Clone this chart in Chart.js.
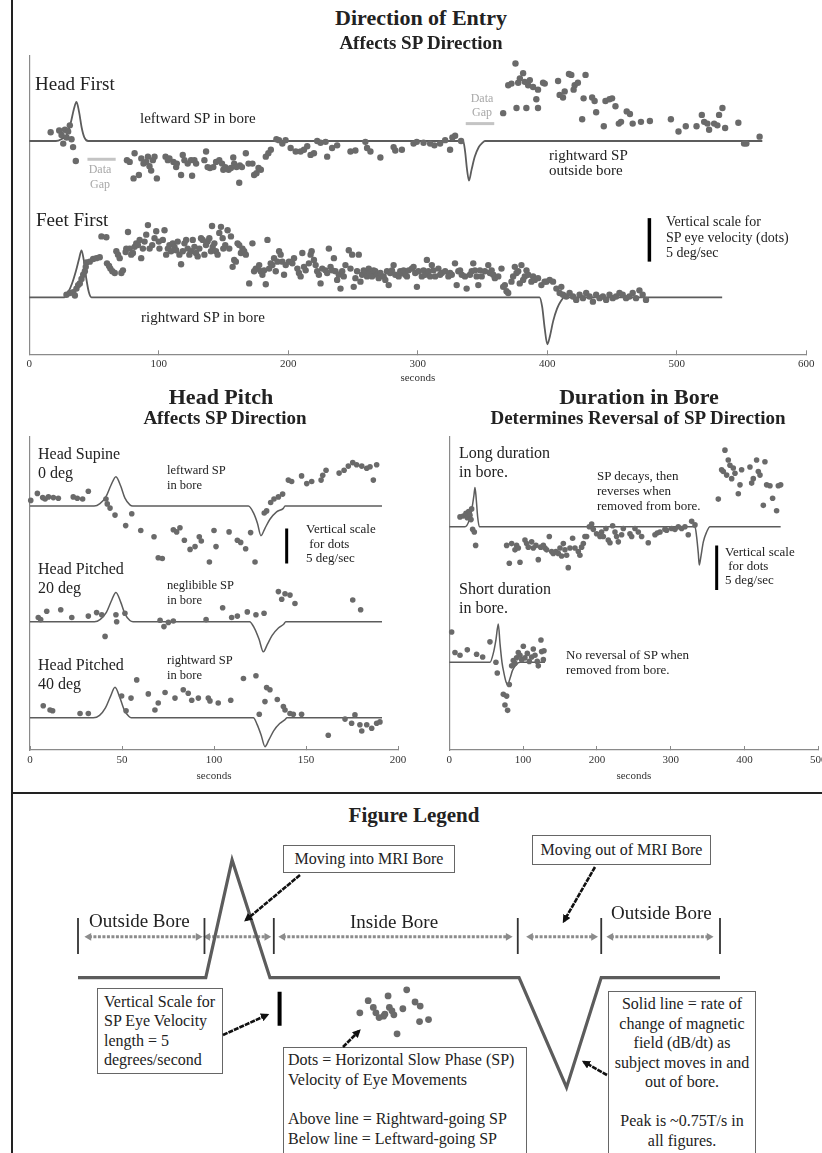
<!DOCTYPE html>
<html>
<head>
<meta charset="utf-8">
<script src="https://cdn.jsdelivr.net/npm/chart.js@4.4.1/dist/chart.umd.min.js"></script>
<style>
  html, body { margin: 0; padding: 0; overflow: hidden; background: #fff; }
  body { position: relative; width: 822px; height: 1153px; font-family: "Liberation Serif", "Times New Roman", serif; color: #222; }
  canvas { position: absolute; }
  .t { position: absolute; white-space: nowrap; }
  .b { font-weight: bold; }
  .c { transform: translateX(-50%); text-align: center; }
  .gap { color: #a8a8a8; }
  .box { position: absolute; box-sizing: border-box; border: 1.5px solid #666; background: #fff; font-size: 16px; white-space: nowrap; }
  .rule { position: absolute; background: #222; }
</style>
</head>
<body>

<div class="rule" style="left:11px;top:0;width:2px;height:1153px"></div>
<div class="rule" style="left:11px;top:792px;width:811px;height:2px"></div>

<canvas id="topChart" width="822" height="352" style="left:0;top:40px"></canvas>
<canvas id="pitchChart" width="420" height="370" style="left:0;top:420px"></canvas>
<canvas id="durChart" width="420" height="370" style="left:420px;top:420px"></canvas>
<canvas id="legendChart" width="822" height="323" style="left:0;top:830px"></canvas>

<!-- Direction of Entry -->
<div class="t b c" style="left:421px;top:5px;font-size:22px;line-height:26px">Direction of Entry</div>
<div class="t b c" style="left:421px;top:32px;font-size:19px;line-height:22px">Affects SP Direction</div>
<div class="t" style="left:35px;top:73px;font-size:19px;line-height:22px">Head First</div>
<div class="t" style="left:140px;top:109px;font-size:15px;line-height:18px">leftward SP in bore</div>
<div class="t c gap" style="left:100px;top:161.5px;font-size:12px;line-height:15px">Data<br>Gap</div>
<div class="t c gap" style="left:482px;top:91px;font-size:12px;line-height:14.4px">Data<br>Gap</div>
<div class="t" style="left:549px;top:147.5px;font-size:15px;line-height:15px">rightward SP<br>outside bore</div>
<div class="t" style="left:36px;top:209px;font-size:19px;line-height:22px">Feet First</div>
<div class="t" style="left:141px;top:307.7px;font-size:15px;line-height:18px">rightward SP in bore</div>
<div class="t" style="left:666px;top:214.2px;font-size:14px;line-height:15.5px">Vertical scale for<br>SP eye velocity (dots)<br>5 deg/sec</div>

<!-- Head Pitch -->
<div class="t b c" style="left:221px;top:383.7px;font-size:22px;line-height:26px">Head Pitch</div>
<div class="t b c" style="left:225px;top:407.3px;font-size:19px;line-height:22px">Affects SP Direction</div>
<div class="t" style="left:38px;top:443.6px;font-size:16px;line-height:19.4px">Head Supine<br>0 deg</div>
<div class="t" style="left:167px;top:463px;font-size:12.5px;line-height:15.3px">leftward SP<br>in bore</div>
<div class="t" style="left:306px;top:522px;font-size:13px;line-height:14.5px">Vertical scale<br>&nbsp;for dots<br>5 deg/sec</div>
<div class="t" style="left:38px;top:558.6px;font-size:16px;line-height:19.4px">Head Pitched<br>20 deg</div>
<div class="t" style="left:167px;top:577.6px;font-size:12.5px;line-height:15.3px">neglibible SP<br>in bore</div>
<div class="t" style="left:38px;top:654.6px;font-size:16px;line-height:19.4px">Head Pitched<br>40 deg</div>
<div class="t" style="left:167px;top:653px;font-size:12.5px;line-height:15.3px">rightward SP<br>in bore</div>

<!-- Duration in Bore -->
<div class="t b c" style="left:639px;top:383.7px;font-size:22px;line-height:26px">Duration in Bore</div>
<div class="t b c" style="left:638px;top:407.3px;font-size:19px;line-height:22px">Determines Reversal of SP Direction</div>
<div class="t" style="left:459px;top:443.2px;font-size:16px;line-height:19px">Long duration<br>in bore.</div>
<div class="t" style="left:597px;top:467.5px;font-size:13px;line-height:15px">SP decays, then<br>reverses when<br>removed from bore.</div>
<div class="t" style="left:725px;top:544.6px;font-size:13px;line-height:14.2px">Vertical scale<br>&nbsp;for dots<br>5 deg/sec</div>
<div class="t" style="left:459px;top:578.8px;font-size:16px;line-height:19px">Short duration<br>in bore.</div>
<div class="t" style="left:566px;top:646.5px;font-size:13px;line-height:15px">No reversal of SP when<br>removed from bore.</div>

<!-- Figure Legend -->
<div class="t b c" style="left:414px;top:803px;font-size:21px;line-height:24px">Figure Legend</div>
<div class="t" style="left:89px;top:909.7px;font-size:19px;line-height:22px">Outside Bore</div>
<div class="t" style="left:350px;top:910.7px;font-size:19px;line-height:22px">Inside Bore</div>
<div class="t" style="left:611px;top:902.3px;font-size:19px;line-height:22px">Outside Bore</div>

<div class="box" style="left:283px;top:845px;width:172px;height:28px;line-height:25px;text-align:center">Moving into MRI Bore</div>
<div class="box" style="left:532px;top:835px;width:179px;height:30px;line-height:27px;text-align:center">Moving out of MRI Bore</div>
<div class="box" style="left:97px;top:988px;width:126px;height:86px;line-height:19.4px;padding:3px 0 0 6px">Vertical Scale for<br>SP Eye Velocity<br>length = 5<br>degrees/second</div>
<div class="box" style="left:283px;top:1047px;width:244px;height:112px;line-height:19.7px;padding:2px 0 0 4px">Dots = Horizontal Slow Phase (SP)<br>Velocity of Eye Movements<br><br>Above line = Rightward-going SP<br>Below line = Leftward-going SP</div>
<div class="box" style="left:608px;top:991px;width:148px;height:170px;line-height:19.5px;padding-top:2px;text-align:center">Solid line = rate of<br>change of magnetic<br>field (dB/dt) as<br>subject moves in and<br>out of bore.<br><br>Peak is ~0.75T/s in<br>all figures.</div>

<svg width="822" height="1153" style="position:absolute;left:0;top:0;pointer-events:none">
  <defs>
    <marker id="ah" viewBox="0 0 10 10" refX="7" refY="5" markerWidth="3.2" markerHeight="3.2" orient="auto">
      <path d="M0,0 L10,5 L0,10 z" fill="#111"/>
    </marker>
  </defs>
  <g stroke="#111" stroke-width="2.6" stroke-dasharray="5 1" marker-end="url(#ah)">
    <line x1="300" y1="875" x2="246" y2="920"/>
    <line x1="595" y1="867" x2="564" y2="921"/>
    <line x1="223" y1="1035" x2="267" y2="1015"/>
    <line x1="343" y1="1047" x2="359" y2="1031"/>
    <line x1="607" y1="1075" x2="584" y2="1062"/>
  </g>
</svg>

<script>
// ---- Direction of Entry (seconds, deg/sec for dots, T/s for the dB/dt line) ----
const headFirstDots = [
  [16.5,1],[23.1,1.2],[24.9,0.7],[26.2,-0.3],[27.5,1.3],[28.8,0.4],[30,1.1],[31.3,1.8],[32.6,0.2],[33.8,-0.7],[35.9,-2.3],
  [75.4,-2.2],[77.5,-2.4],[81.3,-1.4],[80.5,-4.3],[84.6,-3.9],[86.5,-2],[88.2,-2.6],[90.3,-2.4],[91.6,-1.8],[92.8,-2.9],
  [94.1,-3.4],[95.4,-2.2],[96.7,-1.8],[98.5,-4.3],[105.2,-1.8],[107,-2.2],[108.2,-2],[111.3,-2.4],[113.4,-3],[113.9,-2.6],
  [117.2,-3.9],[118.5,-1.6],[119.8,-2.2],[122.3,-2.6],[124.9,-2.2],[125.7,-4],[127.5,-2.2],[128.8,-2.6],[135.2,-2.2],
  [136.5,-1.2],[137.7,-3],[139.5,-3.1],[142.1,-3],[144.2,-2.4],[146.7,-2.2],[148.8,-2.6],[149.8,-3.3],[151.3,-3],
  [153.9,-3.3],[155.7,-3.1],[157.5,-1.9],[158.2,-2.6],[160,-3],[162.1,-4.8],[162.6,-2.8],[164.2,-3],[167.2,-1.4],
  [169.3,-2.6],[172.3,-2.6],[173.6,-3.9],[175.4,-3.7],[177,-3.1],[178.8,-3.3],[182.6,-1.8],[184.6,-1.4],[186.5,-1],
  [190.8,0.2],[192.8,0.1],[195.4,-0.3],[197.9,0.1],[201.8,-0.8],[205.7,-1.2],[209.5,-1.2],[212.1,-1],[214.6,-0.6],
  [217.2,-1.6],[219.8,-1.4],[222.3,0],[224.9,-0.2],[228.8,-0.1],[230,-1.8],[233.8,-0.8],[237.7,-0.5],[248,-1.2],
  [251.8,-1.1],[259.5,-0.1],[260.8,-0.8],[263.4,-1.2],[271.1,-1.9],[281.3,-0.7],[282.6,-1.1],[287.7,-1],[296.7,-0.3],
  [299.2,-0.1],[304.4,-0.2],[309.5,-0.3],[312.8,-0.5],[317.2,-0.3],[321.1,0.1],[324.9,-1],[326.7,0.4],[328.8,0.6],
  [333.4,0],
  [365.9,3.2],[369.8,6.4],[372.3,6.6],[375.4,8.9],[376.2,3.8],[377.5,6.7],[378.8,7.2],[381.3,7.8],[382.6,6.8],[383.8,3.8],
  [385.2,6.4],[386.5,7],[389,6.2],[392.8,5.9],[391.5,4.8],[392.8,3.8],[396.7,6.7],[398,6.6],[408.3,6.9],[409.5,5.3],
  [412.1,5],[413.4,5.7],[416.7,7.7],[418.5,7.6],[420.3,5.9],[421.1,6.4],[423.6,6.7],[426.9,2.5],[428,4.9],[429.5,7.6],
  [434.6,5],[436.5,4.6],[437.7,3.3],[443.6,1.7],[444.9,4.6],[448,4.8],[450,4.9],[452.6,4],[455.2,2],[456.9,2.2],
  [461.3,3.4],[463.8,3.1],[465.9,2],[472.3,2.2],[479.2,2.3],[495.4,2.5],[501.3,1.1],[506.9,1.7],[515.2,1.7],[519.3,3],
  [521.1,2.2],[523.6,2],[524.9,1.3],[528.8,2],[531.3,1.8],[532.6,3],[535.2,3.8],[537.3,1.5],[547.5,2.1],[551.9,-0.3],
  [553.7,-0.3],[563.9,0.5]
];
const headFirstField = [
  [0,0],[20.5,0],[25,0.04],[29,0.12],[32,0.35],[34.5,0.62],[36.4,0.75],[38.5,0.55],[40.5,0.25],[42.5,0.07],[45.4,0],
  [335,0],[336.5,-0.2],[338,-0.55],[339.5,-0.76],[341.5,-0.55],[344,-0.3],[347,-0.12],[350,-0.03],[351.8,0],[566,0]
];
const headFirstGapIn = [[44.9,-2.1],[66.7,-2.1]];
const headFirstGapOut = [[337,2],[359,2]];

const feetFirstDots = [
  [28.7,0.3],[31.3,0.5],[33.9,0.6],[35.2,0.2],[36.4,1],[37.7,1.4],[39,1.6],[40.3,2.1],[41.6,2.6],[42.9,3],[43.6,3.5],
  [44.1,4],[46.7,4.1],[49.3,4.4],[51.8,4.5],[54.4,4.6],[55.7,7],[59.5,6.9],[60,3.9],[61.6,3.6],[62.6,3.3],[64.1,3],
  [66,2.8],[67.2,5.3],[68.5,4.9],[69.8,4.5],[71.1,2.8],[72.3,3.1],[74.4,5.2],[74.9,5.6],[76.2,7.5],[77.5,5.6],[78.7,4.9],
  [80,5.1],[81.3,5.8],[82.6,6.2],[83.9,6],[85.2,6.6],[86.4,4.5],[87.7,5.6],[89,6.4],[90.3,7.2],[91.6,8.3],[92.9,5.6],
  [94.9,6],[96.7,6.8],[98,7.6],[100,6.4],[100.5,5.6],[103.1,6.6],[104.4,7.7],[105.7,4.9],[107,5.6],[108.2,6],[109.5,5.3],
  [110.8,6.2],[112.1,5.8],[113.4,5.4],[114.6,6.4],[115.9,4.9],[117.2,3.8],[118.5,5.3],[119.8,6.2],[121.1,6.6],[122.3,5.6],
  [123.6,4.9],[124.9,5.3],[126.2,6.6],[127.5,5.8],[128.7,5.1],[130,4.7],[131.3,5.6],[132.6,6.8],[133.9,6.6],[135.2,4.9],
  [136.4,6],[137.7,6.4],[139,6.8],[140.3,5.3],[141.1,8.2],[141.6,5.8],[142.9,6.2],[144.1,5.3],[145.4,4.9],[146.7,7.4],
  [148,8.1],[149.3,6.8],[149.8,5.6],[151.3,6],[153.1,7.7],[154.4,5.6],[155.7,7],[157,3.5],[158.2,4.3],[159.5,4.1],
  [160.8,6.2],[162.1,6],[163.4,5.1],[164.6,5.6],[165.9,5.3],[167.2,4.9],[169.8,1.6],[172.3,6.2],[173.6,3],[174.9,3.3],
  [176.2,3.3],[177.5,3.7],[178.7,3],[180,2.6],[181.3,3.1],[182.6,1.5],[183.9,6.6],[185.2,3.3],[186.4,3.9],[187.7,3.7],
  [189,4.5],[190.3,3],[191.6,4.1],[192.9,5.3],[194.1,4.9],[195.4,4.1],[196.7,2.6],[198,3.7],
  [200.5,4.1],[203.1,3.9],[204.4,4.5],[207,3.3],[208.2,2.8],[209.5,2.4],[210.8,5.1],[212.1,3.5],[213.4,3.1],[215.9,3.9],
  [217.2,4.9],[218,5.3],[219.8,4.3],[221.1,3.7],[222.3,3],[223.6,2.6],[224.9,1.6],[226.2,3.3],[228.7,3.1],[230,2.8],
  [231.3,5.6],[232.6,3.5],[233.9,3.1],[235.2,4.5],[236.4,3],[237.7,2],[239,2.6],[240.3,1],[241.6,3],[242.8,2.4],
  [244.1,3.7],[246.7,5.4],[248,3.3],[249.3,4.9],[250.5,1.2],[251.8,2.2],[253.1,3],[254.4,4.9],[255.7,1.8],[257,2.6],
  [258.2,3.1],[259.5,3],[260.8,2.4],[262.1,3.3],[263.4,2.8],[264.6,2.4],[265.9,3.1],[267.2,3],[268.5,2.6],[269.8,2.2],
  [271.1,2.8],[273.6,2.4],[274.9,2],[276.2,3],[277.5,1.4],[278.7,2.8],[280,3.1],[281.3,3.7],[282.6,2.6],[285.2,2.4],
  [286.4,3],[287.7,2.8],[289,3.1],[290.3,2.6],[291.6,2.4],[292.9,3.1],[295.4,3.3],[296.7,3.5],[298,2.8],[299.3,1.2],
  [300.5,3],[303.1,2.4],[304.4,3.1],[305.7,2.6],[307,4.3],[308.2,3],[309.5,2.4],[310.8,3.7],[312.1,3.1],[313.4,2.4],
  [315.9,3.3],[317.2,2.6],[318.5,2.8],[321.1,3],[323.6,2.4],[324.9,2.8],[326.2,2.6],[328.7,3.9],[330,1.4],[331.3,3],
  [332.6,3.1],[333.9,2.6],[336.4,2.4],[337.7,1],[340.3,2.6],[341.6,3],[342.8,3.9],[344.1,3.1],[345.4,2.4],[346.7,1.4],
  [348,3.1],[349.3,2.4],[351.8,3],[354.4,3.7],[355.7,2.8],[357,3.1],[358.2,2.6],[359.5,2.2],[362.1,2.4],[364.6,3.3],
  [365.9,1.2],[367.2,1.4],[368.5,0.7],[369.8,0.5],[372.3,1.8],[373.6,2.4],[374.9,3.5],[376.2,2.8],[377.5,3],[378.7,1.6],
  [380,3.7],[381.3,2],[382.6,2.4],[383.9,3.1],[385.2,2.6],[387.7,1.8],[389,2.4],[390.3,2],[392.8,2.2],[395.4,1.4],
  [397.9,1.8],[399.3,1.8],[401.8,2],[404.4,1.8],[407,1],[409.5,0.5],[410.8,1.2],[412.1,0.3],[414.6,0.1],[417.2,0.5],
  [419.8,0.1],[422.3,-0.3],[424.9,0.3],[427.5,-0.1],[430,0.5],[432.6,0.1],[435.2,-0.5],[437.7,0.3],[440.3,-0.1],
  [442.9,0.1],[445.4,-0.3],[448,0.3],[450.5,-0.1],[453.1,0.1],[455.7,0.5],[458.2,0.3],[460.8,-0.1],[463.4,0.1],
  [465.9,0.5],[468.5,-0.1],[471.1,0.8],[473.6,0.3],[476.2,-0.3]
];
const feetFirstField = [
  [0,0],[27,0],[30,0.08],[33,0.22],[36,0.42],[38.5,0.62],[40.3,0.75],[42,0.6],[44,0.3],[46,0.08],[48,0],
  [394,0],[396,-0.15],[398,-0.5],[400,-0.75],[402,-0.62],[404.5,-0.38],[407.5,-0.18],[410.5,-0.06],[413,0],[535,0]
];
const entryScaleBar = [[478.8,4.1],[478.8,9.1]];
const entryTicks = { max: 600, step: 100 };

// ---- Head Pitch ----
const supineDots = [
  [0.4,0.8],[4,1.8],[6.9,1.2],[8.2,1],[10,1.3],[12.7,1.2],[15.4,1.1],[23.5,1.3],[25.7,1.1],[28.6,1],[31.7,2.1],
  [41.3,1],[42,0.3],[43.5,-0.3],[46.2,-1.3],[52,-2.8],[55.3,-1.1],[60.2,-3.5],[67.4,-4.4],[69.7,-7.4],[71.9,-7.5],
  [77.9,-3.4],[79.7,-3.7],[81.5,-3.1],[83.9,-4.9],[87,-6.2],[89.7,-5.8],[92,-4.4],[93.1,-5],[97.5,-8],[100,-3.5],
  [101.1,-5.8],[108.2,-3.7],[112.7,-4.9],[114.5,-5.2],[117.2,-6.1],[119.9,-3.8],[122.3,-8],[127.3,-1],[128.6,-0.7],
  [130.8,0.5],[132.6,1],[135,1.3],[137.3,1.7],[140.4,3.7],[142.2,3.5],[147.6,4.3],[150.4,3.2],[153.1,3.5],[158.2,3.7],
  [159.1,4.4],[160.9,5.1],[168,4.7],[170.7,5.1],[173,5.7],[175.4,6.2],[177.5,5.9],[180.3,5.7],[183,5.4],[184.8,5.6],
  [186.6,3.7],[188.4,5.9]
];
const supineField = [
  [0,0],[34.8,0],[38,0.06],[41.3,0.24],[44,0.53],[46.7,0.75],[49.3,0.51],[51.6,0.2],[54.3,0.03],[55.8,0],
  [118.7,0],[121.4,-0.17],[123.6,-0.44],[125.5,-0.76],[127.7,-0.57],[130.4,-0.34],[134,-0.15],[137.7,-0.06],[138.6,0],[191.3,0]
];
const pitch20Dots = [
  [4.5,0.6],[5.8,0.3],[9.1,1.5],[16.7,1.7],[22.7,0.6],[31.7,0.8],[36.2,1.3],[39,1],[40.8,-2.1],[46.7,1],[47.1,0],
  [51.6,1.2],[70.7,0.2],[72.8,-0.7],[75.2,-0.1],[77.9,0.1],[95.7,0.3],[104.7,2],[109.6,0.6],[112.7,0.8],[118.1,1.4],
  [122.8,1],[127.2,1.2],[135,4.3],[136.8,3.2],[138.6,4],[141.3,3.8],[144,2.6],[175.4,3.1],[179.7,1.7]
];
const pitch20Field = [
  [0,0],[35,0],[38.2,0.06],[41.5,0.24],[44.2,0.53],[46.7,0.75],[49.3,0.5],[51.6,0.2],[54.3,0.03],[56,0],
  [119.3,0],[122,-0.17],[124.5,-0.45],[126.8,-0.77],[129,-0.58],[131.6,-0.35],[135,-0.16],[138,-0.06],[139,0],[191.3,0]
];
const pitch40Dots = [
  [7.2,1.7],[10.9,1.1],[12.3,1],[27.2,0.6],[31.7,0.6],[49.8,3.1],[52.2,1],[54.9,2.8],[58,5.4],[64.3,3.4],[67.9,1.1],
  [69.7,2.1],[73.4,3.6],[78.8,2.8],[83.3,4],[86,3.5],[87.9,2.5],[91.5,2.8],[96.9,2.8],[97.8,2.4],[102.3,2.1],[109.1,2.5],
  [116,5.6],[122.8,6],[124.6,0.5],[127.7,2.3],[128.6,4.3],[130.4,4],[134.4,2.6],[137.7,1.6],[138.6,1.1],[141.3,0.6],
  [143.1,0.5],[147.6,0.5],[162.1,-2.5],[171.2,-0.2],[174.8,-0.8],[176.6,0.4],[179.3,-1],[180.3,-1.9],[183,-1],
  [185.7,-1.5],[188.4,-0.8],[190.2,-0.6]
];
const pitch40Field = [
  [0,0],[34.4,0],[37.8,0.06],[41,0.25],[43.7,0.54],[46.2,0.78],[48.8,0.52],[51.2,0.2],[53.8,0.03],[55,0],
  [121.4,0],[123.4,-0.17],[125.6,-0.44],[127.7,-0.74],[129.9,-0.56],[132.5,-0.33],[135.7,-0.15],[138.6,-0.05],[139.7,0],[191.3,0]
];
const pitchScaleBar = [[139.5,-3.2],[139.5,-8.2]];
const pitchTicks = { max: 200, step: 50 };

// ---- Duration in Bore ----
const longDots = [
  [14.5,1.1],[19,1.2],[22.6,1.5],[24.4,1],[26.2,1.7],[28,1.3],[29.4,0.8],[30.3,2],[31.6,-0.3],[33.9,-0.6],[35.7,-2.1],
  [77.7,-2.1],[81.3,-4.1],[84.5,-1.9],[89,-2.6],[91.2,-2.1],[93.5,-2.4],[95.8,-4],[102.5,-1.5],[104.8,-1.9],[107,-2.3],
  [111.6,-1.7],[113.8,-2.4],[117.4,-2.1],[120.6,-3.7],[123.8,-2.3],[127.4,-2.1],[129.6,-2.4],[131.9,-2.6],[135.5,-1.1],
  [138.7,-2.8],[140.9,-3],[144.5,-2.8],[147.7,-3],[150,-2.4],[152.2,-3.3],[154.5,-1.9],[156.7,-2.6],[159,-3.2],
  [161.2,-4.6],[163.5,-2.4],[167.1,-1.3],[170.3,-2.4],[174.8,-2.8],[177,-3.2],[179.3,-2.3],[181.6,-1.9],[183.8,-1.1],
  [186.1,-1.1],[189.7,0],[192.9,0.3],[195.1,-0.3],[199.6,-0.8],[204.2,-1.1],[206.4,-0.6],[208.7,-1.1],[212.3,-0.2],
  [215.4,-1.5],[217.7,-1.8],[221.3,0.1],[224.5,-0.6],[226.7,-1.1],[229,-1.7],[233.5,-0.9],[235.8,-0.2],[244.8,-0.8],
  [247.1,-1.1],[251.6,-0.2],[256.1,-0.6],[260.6,-1.1],[269.6,-1.8],[278.7,-0.9],[281.8,-0.7],[285.5,-0.6],[292.2,-0.3],
  [294.5,-0.4],[301.3,-0.2],[305.8,-0.3],[310.3,0],[314.8,-0.2],[319.3,0],[323.8,-0.9],[328.4,0.6],[332.9,0.2],
  [364.5,3.1],[369,6.4],[371.3,6.2],[373.5,8.6],[375.8,5.8],[378,7.5],[380.3,6.9],[382.6,5.4],[384.8,6.6],[387.1,6],
  [391.6,3.7],[393.9,4.7],[396.1,6.4],[407.4,6.7],[409.7,4.9],[411.9,5.4],[416.4,7.5],[418.7,6.2],[421,5.8],[425.5,2.4],
  [427.7,7.3],[430,4.7],[434.5,4.6],[438.1,3.2],[443.5,1.8],[445.8,4.6],[449,4.7]
];
const longField = [
  [0,0],[21.2,0],[27.1,0.13],[30.7,0.35],[33.4,0.6],[34.8,0.75],[36.6,0.51],[38.4,0.19],[40.7,0],
  [332.9,0],[335.1,-0.19],[337.4,-0.51],[338.7,-0.73],[340.6,-0.6],[344.2,-0.29],[348.7,-0.1],[353.2,0],[449,0]
];
const shortDots = [
  [3.2,3.4],[7.7,1.1],[14.5,0.8],[24.4,1.4],[37,0.9],[45.2,0.6],[55.1,2.3],[63.2,0],[65,-1.2],[73.2,-3.6],[75.4,-4.8],
  [77.7,-3.8],[79,-5.4],[81.3,-2.5],[84.5,-0.4],[86.7,0.2],[89,-0.1],[91.2,0.5],[93.5,1.1],[95.8,0.8],[98.1,0.3],
  [100.3,1.8],[102.5,0.5],[105.7,1],[108.4,0.1],[111.6,0.6],[113.8,1.5],[116.1,0.8],[119.2,0.1],[120.6,-0.4],
  [124.2,2.5],[125.1,1.2],[127.4,0.3],[128.3,1.3]
];
const shortField = [
  [0,0],[55.1,0],[59.6,0.17],[63.2,0.43],[66.4,0.73],[68.7,0.36],[71.4,0],[74.1,-0.21],[76.8,-0.37],[79,-0.43],
  [82.2,-0.31],[85.8,-0.15],[90.3,-0.05],[95.8,0],[129.6,0]
];
const durScaleBar = [[362.3,-2.1],[362.3,-7.1]];
const durTicks = { max: 500, step: 100 };

// ---- Figure Legend (schematic units: 0-100 along the run) ----
const legendField = [[0,0],[19.9,0],[24,0.75],[29.9,0],[68.7,0],[76.1,-0.7],[81.5,0],[100,0]];
const legendDots = [
  [43.9,-5.2],[45.2,-3.4],[46,-4.4],[46.4,-5.2],[46.9,-5.9],[47.6,-5.7],[47.8,-5.4],[48.3,-2.7],[48.5,-4.4],
  [48.9,-4.9],[49.2,-5.5],[50.6,-4.6],[51.2,-1.8],[52.5,-3.6],[53.3,-4.2],[53.2,-6.5],[54.6,-6.2],[49.7,-8.3]
];
const legendScaleBar = [[31.4,-2.1],[31.4,-7.1]];
const phaseEdges = [0, 19.7, 30.5, 68.5, 81.5, 100];
const phaseSpans = [[1.7,18.7],[20.2,29.4],[31.9,67],[70.5,80.3],[83,98.3]];
const phaseMarkRange = [0.15, 0.38];
const phaseArrowLevel = 0.26;

// ---- styling / helpers ----
const DOT = '#6a6a6a', LINE = '#5c5c5c', AXIS = '#8a8a8a', GAP = '#c4c4c4';
Chart.defaults.font.family = '"Liberation Serif", "Times New Roman", serif';
Chart.defaults.animation = false;

const pts = arr => arr.map(([x, y]) => ({ x, y }));

// hidden linear axis placed so that 0 sits on a trace's baseline
function yAxis(basePx, pxPerUnit, area, show) {
  return {
    type: 'linear', axis: 'y', position: 'left', display: !!show, bounds: 'data',
    min: -(area.bottom - basePx) / pxPerUnit,
    max: (basePx - area.top) / pxPerUnit,
    grid: { display: false, drawTicks: false },
    ticks: { display: false },
    border: { display: true, color: AXIS, width: 1.2 }
  };
}
// small tick marks point up into the plot; "seconds" sits close under the labels
function xAxis(t, titleGap) {
  return {
    type: 'linear', position: 'bottom', min: 0, max: t.max,
    ticks: { stepSize: t.step, padding: 7.4, color: '#333', font: { size: 11 }, maxRotation: 0, autoSkip: false },
    grid: { display: true, drawOnChartArea: false, drawTicks: true, tickLength: -4, color: AXIS },
    border: { display: true, color: AXIS, width: 1.2 },
    title: { display: true, text: 'seconds', color: '#333', font: { size: 11 }, padding: { top: titleGap, bottom: 0 } }
  };
}
function dots(data, axis, r) {
  return { data: pts(data), yAxisID: axis, pointRadius: r, pointBackgroundColor: DOT, pointBorderWidth: 0, showLine: false, order: 0, clip: false };
}
function trace(data, axis, w, smooth) {
  return { data: pts(data), yAxisID: axis, showLine: true, borderColor: LINE, borderWidth: w, pointRadius: 0,
           cubicInterpolationMode: smooth ? 'monotone' : 'default', tension: 0, order: 1, clip: false };
}
function seg(data, axis, color, w) {
  return { data: pts(data), yAxisID: axis, showLine: true, borderColor: color, borderWidth: w, pointRadius: 0,
           borderCapStyle: 'butt', order: 2, clip: false };
}
function makeChart(id, scales, datasets, padding) {
  return new Chart(document.getElementById(id), {
    type: 'scatter',
    data: { datasets },
    options: {
      responsive: false, animation: false, events: [],
      layout: { padding },
      plugins: { legend: { display: false }, tooltip: { enabled: false } },
      scales
    }
  });
}

// Direction of Entry
const topArea = { top: 56, bottom: 354.3 };
makeChart('topChart', {
  x: xAxis(entryTicks, -7),
  yHfDot: yAxis(141, 8.7, topArea, true),
  yHfField: yAxis(141, 52, topArea),
  yFfDot: yAxis(297.3, 8.7, topArea),
  yFfField: yAxis(297.3, 62.7, topArea)
}, [
  dots(headFirstDots, 'yHfDot', 3.2),
  dots(feetFirstDots, 'yFfDot', 3.2),
  trace(headFirstField, 'yHfField', 1.8, true),
  trace(feetFirstField, 'yFfField', 1.8, true),
  seg(headFirstGapIn, 'yHfDot', GAP, 3),
  seg(headFirstGapOut, 'yHfDot', GAP, 3),
  seg(entryScaleBar, 'yFfDot', '#000', 3.5)
], { left: 29.3, right: 12.7, top: 16, bottom: 7.5 });

// Head Pitch
const midArea = { top: 437, bottom: 750 };
makeChart('pitchChart', {
  x: xAxis(pitchTicks, -4),
  ySup: yAxis(506, 7, midArea, true),
  ySupF: yAxis(506, 39.1, midArea),
  yP20: yAxis(621.7, 7, midArea),
  yP20F: yAxis(621.7, 39.1, midArea),
  yP40: yAxis(717.7, 7, midArea),
  yP40F: yAxis(717.7, 39.1, midArea)
}, [
  dots(supineDots, 'ySup', 2.8),
  dots(pitch20Dots, 'yP20', 2.8),
  dots(pitch40Dots, 'yP40', 2.8),
  trace(supineField, 'ySupF', 1.5, true),
  trace(pitch20Field, 'yP20F', 1.5, true),
  trace(pitch40Field, 'yP40F', 1.5, true),
  seg(pitchScaleBar, 'ySup', '#000', 3)
], { left: 30, right: 22, top: 17, bottom: 6.8 });

// Duration in Bore
makeChart('durChart', {
  x: xAxis(durTicks, -4),
  yLong: yAxis(526.7, 8.9, midArea, true),
  yLongF: yAxis(526.7, 52.4, midArea),
  yShort: yAxis(662.3, 8.9, midArea),
  yShortF: yAxis(662.3, 52.4, midArea)
}, [
  dots(longDots, 'yLong', 2.8),
  dots(shortDots, 'yShort', 2.8),
  trace(longField, 'yLongF', 1.5, true),
  trace(shortField, 'yShortF', 1.5, true),
  seg(durScaleBar, 'yLong', '#000', 3)
], { left: 29.3, right: 21.7, top: 17, bottom: 6.8 });

// Figure Legend schematic
const legArea = { top: 840, bottom: 1150 };
const phaseBars = phaseEdges.flatMap(x => [{ x, y: phaseMarkRange[0] }, { x, y: phaseMarkRange[1] }, { x, y: null }]);
const arrowSets = phaseSpans.map(([a, b]) => ({
  data: [{ x: a, y: phaseArrowLevel }, { x: b, y: phaseArrowLevel }], yAxisID: 'yLegF', showLine: true,
  borderColor: '#8c8c8c', borderWidth: 3, borderDash: [3, 1.5], pointStyle: 'triangle', pointRadius: 4.5,
  pointRotation: [-90, 90], pointBackgroundColor: '#8c8c8c', pointBorderWidth: 0, order: 3, clip: false
}));
makeChart('legendChart', {
  x: { type: 'linear', display: false, min: 0, max: 100 },
  yLegF: yAxis(978.3, 157.7, legArea),
  yLegD: yAxis(978.3, 6.8, legArea)
}, [
  trace(legendField, 'yLegF', 3.2, false),
  dots(legendDots, 'yLegD', 3.4),
  seg(legendScaleBar, 'yLegD', '#000', 4),
  { data: phaseBars, yAxisID: 'yLegF', showLine: true, spanGaps: false, borderColor: '#333', borderWidth: 1.8,
    pointRadius: 0, order: 2, clip: false },
  ...arrowSets
], { left: 78, right: 102, top: 10, bottom: 3 });
</script>
</body>
</html>
